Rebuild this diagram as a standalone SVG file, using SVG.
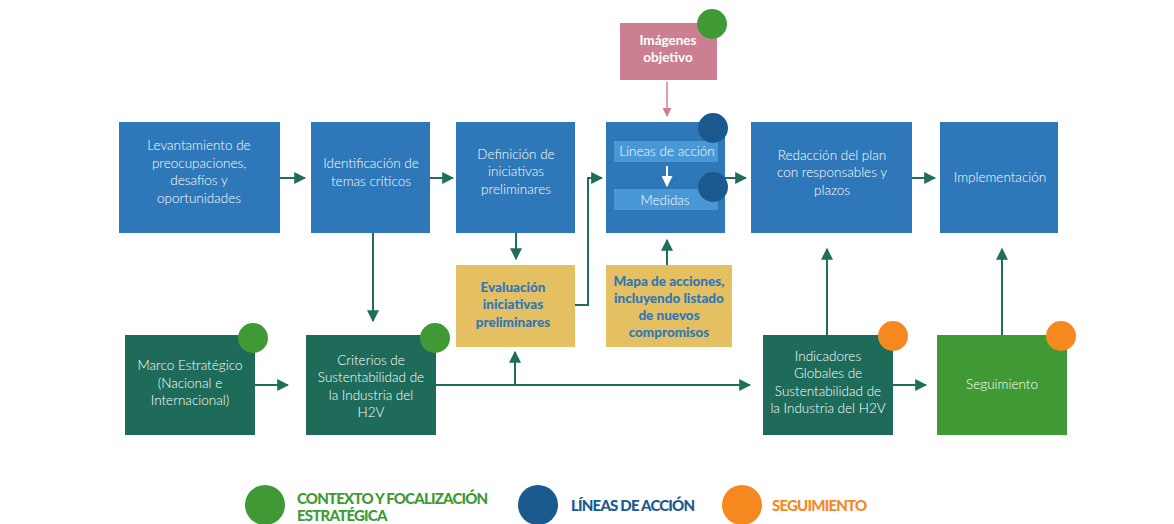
<svg xmlns="http://www.w3.org/2000/svg" width="1174" height="524" viewBox="0 0 1174 524">
<defs>
<style>
.blue{fill:#2e77b8}
.dg{fill:#1e6b5a}
.lg{fill:#3f9a35}
.yel{fill:#e5c062}
.t{font-family:Lato,"Open Sans",sans-serif;font-size:13.5px;fill:#fff;text-anchor:middle;font-weight:300}
.b{font-family:Lato,"Open Sans",sans-serif;font-size:13.5px;fill:#2e77b8;text-anchor:middle;font-weight:900}
.lgd{font-family:Lato,"Open Sans",sans-serif;font-size:15px;font-weight:900;letter-spacing:-0.8px}
.c{stroke:#1f6e5a;stroke-width:2;fill:none}
</style>
<marker id="ah" viewBox="0 0 10 10" refX="9" refY="5" markerWidth="6" markerHeight="6" orient="auto"><path d="M0,0 L10,5 L0,10 z" fill="#1f6e5a"/></marker>
<marker id="ahp" viewBox="0 0 10 10" refX="9" refY="5" markerWidth="6" markerHeight="6" orient="auto"><path d="M0,0 L10,5 L0,10 z" fill="#d07f92"/></marker>
<marker id="ahw" viewBox="0 0 10 10" refX="9" refY="5" markerWidth="5.5" markerHeight="5.5" orient="auto"><path d="M0,0 L10,5 L0,10 z" fill="#fff"/></marker>
</defs>
<rect width="1174" height="524" fill="#fff"/>
<g id="connectors">
<line class="c" x1="280" y1="178" x2="305" y2="178" marker-end="url(#ah)"/>
<line class="c" x1="430" y1="178" x2="453" y2="178" marker-end="url(#ah)"/>
<line class="c" x1="725" y1="178" x2="746" y2="178" marker-end="url(#ah)"/>
<line class="c" x1="912" y1="178" x2="935" y2="178" marker-end="url(#ah)"/>
<polyline class="c" points="575,305 588,305 588,178 602,178" marker-end="url(#ah)"/>
<line class="c" x1="516" y1="233" x2="516" y2="259" marker-end="url(#ah)"/>
<line class="c" x1="667" y1="265" x2="667" y2="240" marker-end="url(#ah)"/>
<line class="c" x1="373" y1="233" x2="373" y2="321" marker-end="url(#ah)"/>
<line class="c" x1="255" y1="385" x2="288" y2="385" marker-end="url(#ah)"/>
<line class="c" x1="436" y1="385" x2="750" y2="385" marker-end="url(#ah)"/>
<line class="c" x1="515" y1="385" x2="515" y2="352" marker-end="url(#ah)"/>
<line class="c" x1="893" y1="385" x2="926" y2="385" marker-end="url(#ah)"/>
<line class="c" x1="827" y1="335" x2="827" y2="249" marker-end="url(#ah)"/>
<line class="c" x1="1002" y1="335" x2="1002" y2="249" marker-end="url(#ah)"/>
<line x1="667" y1="82" x2="667" y2="116" stroke="#d07f92" stroke-width="1.5" marker-end="url(#ahp)"/>
</g>
<g id="n-imagenes">
<rect x="620" y="23" width="97" height="57" fill="#cc7f91"/>
<text class="t" x="668" y="45" style="font-weight:700">Imágenes</text>
<text class="t" x="668" y="62" style="font-weight:700">objetivo</text>
<circle cx="712" cy="24" r="15" class="lg"/>
</g>
<g id="n-levantamiento">
<rect x="119" y="122" width="161" height="111" class="blue"/>
<text class="t" x="199" y="150">Levantamiento de</text>
<text class="t" x="199" y="168">preocupaciones,</text>
<text class="t" x="199" y="185">desafíos y</text>
<text class="t" x="199" y="203">oportunidades</text>
</g>
<g id="n-identificacion">
<rect x="311" y="122" width="119" height="111" class="blue"/>
<text class="t" x="371" y="168">Identificación de</text>
<text class="t" x="371" y="186">temas críticos</text>
</g>
<g id="n-definicion">
<rect x="456" y="122" width="119" height="111" class="blue"/>
<text class="t" x="516" y="159">Definición de</text>
<text class="t" x="516" y="176">iniciativas</text>
<text class="t" x="516" y="194">preliminares</text>
</g>
<g id="n-lineas">
<rect x="606" y="122" width="119" height="111" class="blue"/>
<rect x="614" y="141" width="104" height="21" fill="#4a97d6"/>
<rect x="614" y="189" width="104" height="21" fill="#4a97d6"/>
<text class="t" x="667" y="156">Líneas de acción</text>
<text class="t" x="665" y="205">Medidas</text>
<line x1="667" y1="166" x2="667" y2="186" stroke="#fff" stroke-width="2" marker-end="url(#ahw)"/>
<circle cx="713" cy="128" r="15" fill="#1a5a8f"/>
<circle cx="713" cy="187" r="15" fill="#1a5a8f"/>
</g>
<g id="n-redaccion">
<rect x="751" y="122" width="161" height="111" class="blue"/>
<text class="t" x="832" y="160">Redacción del plan</text>
<text class="t" x="832" y="177">con responsables y</text>
<text class="t" x="832" y="195">plazos</text>
</g>
<g id="n-implementacion">
<rect x="940" y="122" width="118" height="111" class="blue"/>
<text class="t" x="1000" y="182">Implementación</text>
</g>
<g id="n-evaluacion">
<rect x="456" y="265" width="119" height="82" class="yel"/>
<text class="b" x="513" y="292">Evaluación</text>
<text class="b" x="513" y="309">iniciativas</text>
<text class="b" x="513" y="327">preliminares</text>
</g>
<g id="n-mapa">
<rect x="606" y="265" width="126" height="82" class="yel"/>
<text class="b" x="669" y="286">Mapa de acciones,</text>
<text class="b" x="669" y="303">incluyendo listado</text>
<text class="b" x="669" y="320">de nuevos</text>
<text class="b" x="669" y="337">compromisos</text>
</g>
<g id="n-marco">
<rect x="125" y="335" width="130" height="100" class="dg"/>
<text class="t" x="190" y="370">Marco Estratégico</text>
<text class="t" x="190" y="388">(Nacional e</text>
<text class="t" x="190" y="405">Internacional)</text>
<circle cx="253" cy="338" r="15" class="lg"/>
</g>
<g id="n-criterios">
<rect x="306" y="335" width="130" height="100" class="dg"/>
<text class="t" x="371" y="365">Criterios de</text>
<text class="t" x="371" y="382">Sustentabilidad de</text>
<text class="t" x="371" y="400">la Industria del</text>
<text class="t" x="371" y="417">H2V</text>
<circle cx="435" cy="338" r="15" class="lg"/>
</g>
<g id="n-indicadores">
<rect x="763" y="335" width="130" height="100" class="dg"/>
<text class="t" x="828" y="361">Indicadores</text>
<text class="t" x="828" y="378">Globales de</text>
<text class="t" x="828" y="396">Sustentabilidad de</text>
<text class="t" x="828" y="413">la Industria del H2V</text>
<circle cx="893" cy="336" r="15" fill="#f5891f"/>
</g>
<g id="n-seguimiento">
<rect x="937" y="335" width="130" height="100" class="lg"/>
<text class="t" x="1002" y="389">Seguimiento</text>
<circle cx="1061" cy="336" r="15" fill="#f5891f"/>
</g>
<g id="legend">
<circle cx="265" cy="505" r="20" class="lg"/>
<text class="lgd" x="297" y="504" fill="#3f9a35">CONTEXTO Y FOCALIZACIÓN</text>
<text class="lgd" x="297" y="521" fill="#3f9a35">ESTRATÉGICA</text>
<circle cx="538" cy="505" r="20" fill="#1a5a8f"/>
<text class="lgd" x="571" y="511" fill="#1a5a8f">LÍNEAS DE ACCIÓN</text>
<circle cx="742" cy="505" r="20" fill="#f5891f"/>
<text class="lgd" x="772" y="511" fill="#f5891f">SEGUIMIENTO</text>
</g>
</svg>
